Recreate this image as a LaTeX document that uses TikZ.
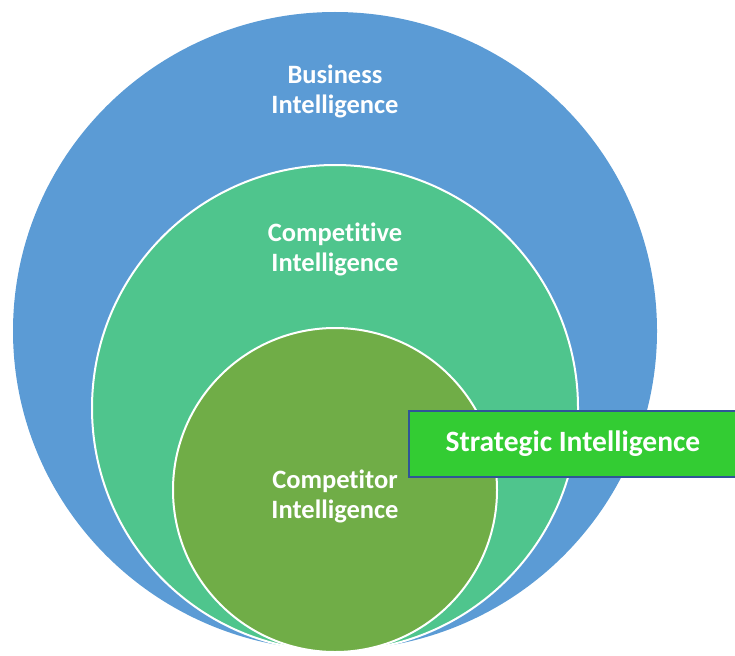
\documentclass[tikz,border=0pt]{standalone}
\usepackage{fontspec}
\setmainfont[RawFeature={-liga}]{Carlito}
\definecolor{biblue}{HTML}{5B9BD5}
\definecolor{cigreen}{HTML}{4FC58D}
\definecolor{cogreen}{HTML}{70AD47}
\definecolor{sigreen}{HTML}{33CC33}
\definecolor{siborder}{HTML}{2F5597}
\begin{document}
\begin{tikzpicture}[x=1pt,y=-1pt,
  lbl/.style={text=white,font=\bfseries\fontsize{26.5}{30}\selectfont,align=center},
  ring/.style={draw=white,line width=2pt}]
\useasboundingbox (0,0) rectangle (735,655);
\fill[biblue] (335,331) ellipse [x radius=322, y radius=319];
\node[lbl] (bi) at (335,91) {Business\\Intelligence};
\draw[ring,fill=cigreen] (335,408) circle [radius=243];
\node[lbl] (ci) at (335,249) {Competitive\\Intelligence};
\draw[ring,fill=cogreen] (335,490) circle [radius=162];
\node[lbl] (co) at (335,496) {Competitor\\Intelligence};
\node[draw=siborder,line width=1.8pt,fill=sigreen,minimum width=328pt,minimum height=66pt,anchor=north west,
  text=white,font=\bfseries\fontsize{29.5}{32}\selectfont,inner sep=0pt] (si) at (408,410) {Strategic Intelligence};
\end{tikzpicture}
\end{document}
